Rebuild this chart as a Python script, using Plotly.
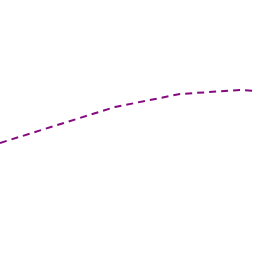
import plotly.graph_objects as go

x_vals = [0, 58, 115, 180, 240, 256]
y_vals = [113, 131, 149, 162, 166, 165]

fig = go.Figure()
fig.add_trace(go.Scatter(x=x_vals, y=y_vals, mode="lines",
                         line=dict(color="#850a80", width=2, dash="7px,5px")))
fig.update_layout(width=256, height=256, margin=dict(l=0, r=0, t=0, b=0),
                  paper_bgcolor="white", plot_bgcolor="white", showlegend=False)
fig.update_xaxes(visible=False, range=[0, 256])
fig.update_yaxes(visible=False, range=[0, 256])
fig.write_html("out.html")
